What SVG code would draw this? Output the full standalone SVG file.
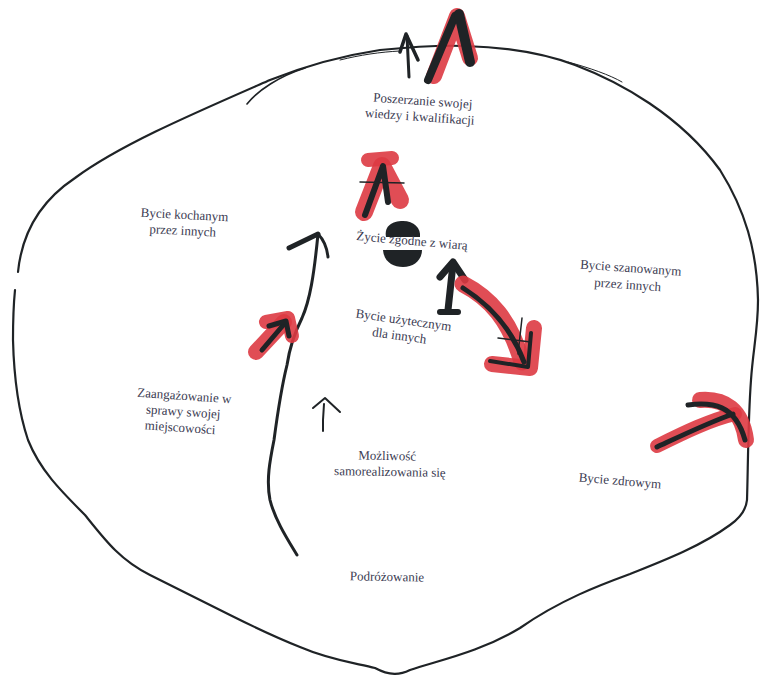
<svg xmlns="http://www.w3.org/2000/svg" width="760" height="681" viewBox="0 0 760 681">
<style>
.lbl{font-family:"Liberation Serif","Times New Roman",serif;font-size:13px;fill:#3b3b52;text-anchor:middle}
.pen{fill:none;stroke:#1f2326;stroke-linecap:round;stroke-linejoin:round}
.red{fill:none;stroke:#dd3a42;stroke-linecap:round;stroke-linejoin:round;opacity:0.9}
.blk{fill:none;stroke:#1f2326;stroke-linecap:round;stroke-linejoin:round}
</style>
<rect width="760" height="681" fill="#ffffff"/>
<g id="outline">
<path class="pen" stroke-width="2.2" d="M18,272 C22,232 42,200 75,178 C120,145 190,115 270,80 C300,68 340,56 380,50 C410,47 440,45 465,46 C500,47 540,52 575,65 C620,82 680,115 720,170 C745,210 757,250 758,300 C758,330 753,350 751,380 C748,420 748,470 747,500 C746,510 740,518 730,525 C700,547 660,562 630,574 C600,585 560,600 520,628 C480,652 440,660 410,670 C400,675 390,676 375,668 C355,663 330,660 300,647 C270,635 250,625 230,615 C200,600 180,590 150,575 C120,560 105,540 85,515 C60,490 40,470 28,440 C18,410 14,380 13,340 C13,315 14,300 15,290"/>
<path class="pen" stroke-width="1.6" d="M247,104 C258,90 280,76 305,68"/>
<path class="pen" stroke-width="1" d="M340,60 C360,55 380,52 400,51"/>
<path class="pen" stroke-width="1" d="M568,62 C590,68 610,75 622,82"/>
</g>
<g id="connectors">
<path class="pen" stroke-width="3" d="M297,555 C288,540 275,520 270,500 C266,480 270,460 274,440 C278,410 282,385 287,365 C290,345 296,330 302,318 C310,300 314,275 318,234"/>
<path class="pen" stroke-width="5" d="M289,248 L318,234"/>
<path class="pen" stroke-width="3" d="M318,234 C324,240 327,248 328,257"/>
<path class="pen" stroke-width="3" d="M409,77 L407,36"/>
<path class="pen" stroke-width="3.5" d="M400,52 L406,34 L418,60"/>
<path class="red" stroke-width="16" d="M434,76 L457,16 L470,58"/>
<path class="blk" stroke-width="8" d="M428,80 L455,16"/>
<path class="blk" stroke-width="10" d="M459,14 L470,62"/>
<path class="red" stroke-width="18" d="M364,212 L382,166 L400,200"/>
<path class="red" stroke-width="14" d="M368,160 L392,158"/>
<path class="blk" stroke-width="6" d="M365,215 L383,166 L388,202"/>
<path class="blk" stroke-width="1.5" d="M360,182 L404,183"/>
<path fill="#1f2326" d="M386,237 C384,226 392,221 403,221 C414,221 421,228 420,237 Z"/>
<path fill="#1f2326" d="M383,250 C384,262 393,267 403,267 C414,267 422,260 422,250 Z"/>
<path class="blk" stroke-width="7" d="M440,277 L453,262 L465,280"/>
<path class="blk" stroke-width="7" d="M453,264 L448,310"/>
<path class="blk" stroke-width="6" d="M440,312 L458,312"/>
<path class="red" stroke-width="17" d="M463,284 C490,298 510,320 522,362"/>
<path class="red" stroke-width="16" d="M492,364 L530,368 L534,328"/>
<path class="blk" stroke-width="5" d="M463,288 C490,305 512,330 524,362"/>
<path class="blk" stroke-width="4" d="M490,361 L528,367 L531,333"/>
<path class="blk" stroke-width="1.5" d="M498,338 L531,342 M522,318 L518,354"/>
<path class="red" stroke-width="16" d="M256,352 L284,322"/>
<path class="red" stroke-width="14" d="M266,322 L288,318 L292,336"/>
<path class="blk" stroke-width="5" d="M262,350 L285,323"/>
<path class="blk" stroke-width="5" d="M269,326 L286,321 L289,336"/>
<path class="red" stroke-width="14" d="M657,446 C685,432 710,420 735,414"/>
<path class="red" stroke-width="16" d="M700,400 C725,398 742,410 746,440"/>
<path class="blk" stroke-width="5" d="M657,447 C685,434 710,422 733,414"/>
<path class="blk" stroke-width="5" d="M688,405 C712,402 735,404 745,440"/>
<path class="pen" stroke-width="2" d="M313,408 L325,398 L340,412"/>
<path class="pen" stroke-width="2" d="M324,404 L323,420 L323,431"/>
</g>
<g id="n-poszerzanie" font-family="Liberation Serif, serif" transform="rotate(4 421 112)">
<text class="lbl" x="422" y="105">Poszerzanie swojej</text>
<text class="lbl" x="420" y="121">wiedzy i kwalifikacji</text>
</g>
<g id="n-kochanym" font-family="Liberation Serif, serif" transform="rotate(3 184 226)">
<text class="lbl" x="184" y="219">Bycie kochanym</text>
<text class="lbl" x="183" y="235">przez innych</text>
</g>
<g id="n-zycie" font-family="Liberation Serif, serif" transform="rotate(5 412 241)">
<text class="lbl" x="412" y="245">Życie zgodne z wiarą</text>
</g>
<g id="n-uzytecznym" font-family="Liberation Serif, serif" transform="rotate(8 401 331)">
<text class="lbl" x="402" y="324">Bycie użytecznym</text>
<text class="lbl" x="400" y="340">dla innych</text>
</g>
<g id="n-szanowanym" font-family="Liberation Serif, serif" transform="rotate(4 629 280)">
<text class="lbl" x="630" y="272">Bycie szanowanym</text>
<text class="lbl" x="628" y="289">przez innych</text>
</g>
<g id="n-zaangazowanie" font-family="Liberation Serif, serif" transform="rotate(4 183 415)">
<text class="lbl" x="183" y="400">Zaangażowanie w</text>
<text class="lbl" x="183" y="416">sprawy swojej</text>
<text class="lbl" x="181" y="432">miejscowości</text>
</g>
<g id="n-mozliwosc" font-family="Liberation Serif, serif" transform="rotate(1 388 468)">
<text class="lbl" x="387" y="460">Możliwość</text>
<text class="lbl" x="390" y="476">samorealizowania się</text>
</g>
<g id="n-zdrowym" font-family="Liberation Serif, serif" transform="rotate(5 620 481)">
<text class="lbl" x="620" y="485">Bycie zdrowym</text>
</g>
<g id="n-podrozowanie" font-family="Liberation Serif, serif" transform="rotate(1 387 577)">
<text class="lbl" x="387" y="581">Podróżowanie</text>
</g>
</svg>
